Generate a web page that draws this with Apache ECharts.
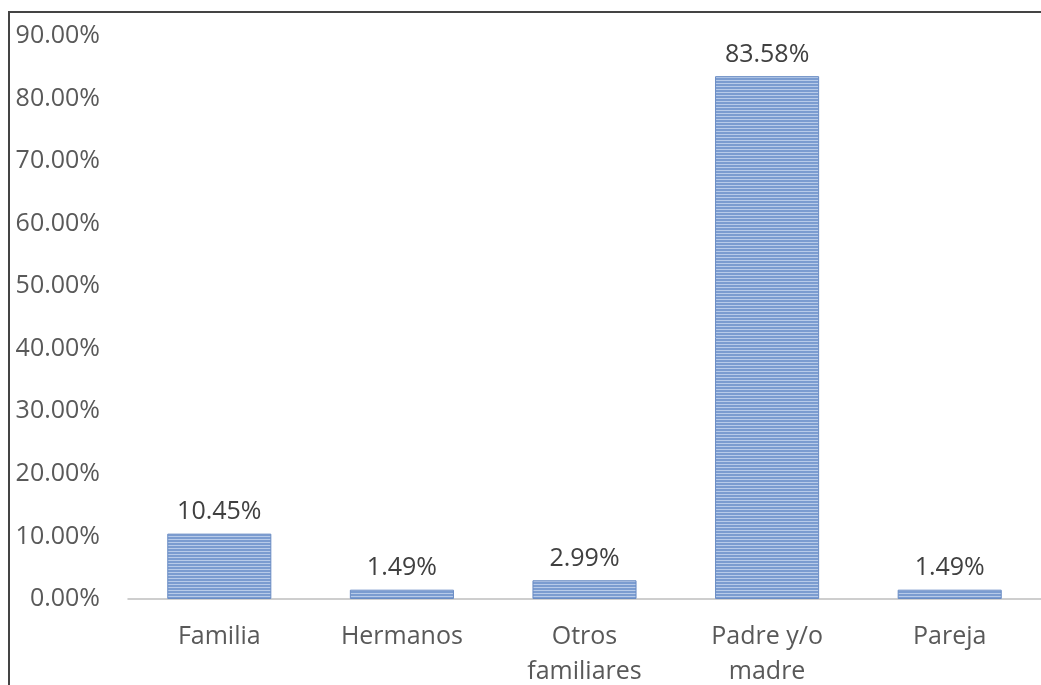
<!DOCTYPE html>
<html>
<head>
<meta charset="utf-8">
<script src="https://cdn.jsdelivr.net/npm/echarts@6/dist/echarts.min.js"></script>
<style>
html,body{margin:0;padding:0;background:#fff;}
#frame{position:absolute;left:8px;top:11px;width:1033px;height:674px;border-left:2px solid #444;border-top:2px solid #444;box-sizing:border-box;}
#chart{position:absolute;left:0;top:0;width:1041px;height:685px;}
</style>
</head>
<body>
<div id="frame"></div>
<div id="chart"></div>
<script>
var categories = ['Familia', 'Hermanos', 'Otros\nfamiliares', 'Padre y/o\nmadre', 'Pareja'];
var values = [10.45, 1.49, 2.99, 83.58, 1.49];
var yTicks = [0, 10, 20, 30, 40, 50, 60, 70, 80, 90];

var c = document.createElement('canvas');
c.width = 4; c.height = 3;
var ctx = c.getContext('2d');
ctx.fillStyle = '#7b9cd0'; ctx.fillRect(0, 0, 4, 2);
ctx.fillStyle = '#b8cbe9'; ctx.fillRect(0, 2, 4, 1);

var chart = echarts.init(document.getElementById('chart'), null, {renderer: 'canvas'});
var font = '"Open Sans", sans-serif';
chart.setOption({
  animation: false,
  grid: {left: 128, right: 0, top: 36, bottom: 86, containLabel: false, outerBoundsMode: 'none'},
  xAxis: {
    type: 'category',
    data: categories,
    axisLine: {lineStyle: {color: '#bfbfbf', width: 1.5}},
    axisTick: {show: false},
    axisLabel: {color: '#595959', fontSize: 25, fontFamily: font, margin: 20, lineHeight: 35, interval: 0}
  },
  yAxis: {
    type: 'value',
    min: yTicks[0], max: yTicks[yTicks.length - 1], interval: 10,
    splitLine: {show: false},
    axisLine: {show: false},
    axisTick: {show: false},
    axisLabel: {color: '#595959', fontSize: 25, fontFamily: font, margin: 28,
      formatter: function (v) { return v.toFixed(2) + '%'; }}
  },
  series: [{
    type: 'bar',
    data: values,
    barWidth: '57%',
    itemStyle: {color: {image: c, repeat: 'repeat'}, borderColor: '#6a8cc4', borderWidth: 1},
    label: {show: true, position: 'top', distance: 9, color: '#404040', fontSize: 25, fontFamily: font,
      formatter: function (p) { return p.value.toFixed(2) + '%'; }}
  }]
});
</script>
</body>
</html>
